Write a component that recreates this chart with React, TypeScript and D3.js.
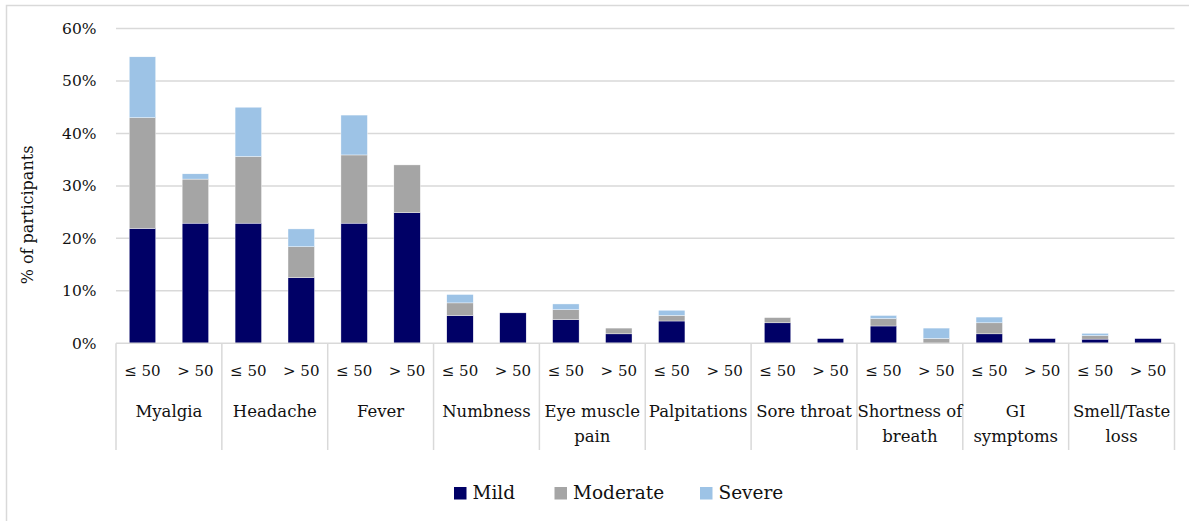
import React from "react";
import * as d3 from "d3";

const categories = [
  ["Myalgia"],
  ["Headache"],
  ["Fever"],
  ["Numbness"],
  ["Eye muscle", "pain"],
  ["Palpitations"],
  ["Sore throat"],
  ["Shortness of", "breath"],
  ["GI", "symptoms"],
  ["Smell/Taste", "loss"],
];
const ageGroups = ["≤ 50", "> 50"];

// values in percent, order: cat0 ≤50, cat0 >50, cat1 ≤50, ...
const mild = [21.9, 22.9, 22.9, 12.5, 22.9, 24.9, 5.3, 5.8, 4.5, 1.8, 4.25, 0, 3.9, 0.9, 3.3, 0, 1.8, 0.9, 0.8, 0.9];
const moderate = [21.1, 8.4, 12.7, 5.9, 13.0, 9.1, 2.4, 0, 1.9, 1.1, 1.05, 0, 1.0, 0, 1.4, 0.9, 2.1, 0, 0.65, 0];
const severe = [11.6, 1.0, 9.4, 3.4, 7.6, 0, 1.6, 0, 1.1, 0, 1.0, 0, 0, 0, 0.6, 2.0, 1.1, 0, 0.45, 0];

const seriesNames = ["Mild", "Moderate", "Severe"];
const seriesColors = ["#000066", "#a5a5a5", "#9dc3e6"];
const yTicks = [0, 10, 20, 30, 40, 50, 60];

const W = 1189;
const H = 521;
const FONT = "DejaVu Serif";

export default function App() {
  const left = 116;
  const right = 1174.5;
  const top = 28.5;
  const bottom = 343.3;

  const rows = mild.map((m, i) => ({
    key: i,
    Mild: m,
    Moderate: moderate[i],
    Severe: severe[i],
  }));
  const stack = d3.stack<any>().keys(seriesNames)(rows);

  const y = d3.scaleLinear().domain([0, 60]).range([bottom, top]);
  const x = d3
    .scaleBand<number>()
    .domain(rows.map((r) => r.key))
    .range([left, right])
    .paddingInner(0.5)
    .paddingOuter(0.25);
  const catX = d3
    .scaleBand<number>()
    .domain(categories.map((_, i) => i))
    .range([left, right]);

  const grid = "#d9d9d9";

  return (
    <svg
      width={W}
      height={H}
      style={{ position: "absolute", left: 0, top: 0, background: "#fff" }}
      fontFamily={FONT}
    >
      <rect x={6.5} y={5.5} width={W + 10} height={H + 10} fill="#fff" stroke={grid} strokeWidth={1.5} />
      {yTicks.map((t) => (
        <g key={t}>
          {t > 0 && (
            <line x1={left} x2={right} y1={y(t)} y2={y(t)} stroke={grid} strokeWidth={1.5} />
          )}
          <text x={96.5} y={y(t)} dy="0.35em" textAnchor="end" fontSize={15.5} fill="#111">
            {t}%
          </text>
        </g>
      ))}
      <text
        transform={`translate(33,215) rotate(-90)`}
        textAnchor="middle"
        fontSize={16}
        fill="#111"
      >
        % of participants
      </text>
      {stack.map((s, si) => (
        <g key={s.key} fill={seriesColors[si]}>
          {s.map((d, i) =>
            d[1] - d[0] > 0 ? (
              <rect
                key={i}
                x={x(i)}
                width={x.bandwidth()}
                y={y(d[1])}
                height={y(d[0]) - y(d[1])}
                stroke="#fff"
                strokeWidth={0.4}
              />
            ) : null
          )}
        </g>
      ))}
      <line x1={left} x2={right} y1={bottom} y2={bottom} stroke={grid} strokeWidth={1.5} />
      {categories.map((_, i) => (
        <line
          key={"d" + i}
          x1={catX(i)!}
          x2={catX(i)!}
          y1={bottom}
          y2={450}
          stroke={grid}
          strokeWidth={1.5}
        />
      ))}
      <line x1={right} x2={right} y1={bottom} y2={450} stroke={grid} strokeWidth={1.5} />
      {rows.map((r) => (
        <text
          key={"a" + r.key}
          x={x(r.key)! + x.bandwidth() / 2}
          y={370.5}
          dy="0.35em"
          textAnchor="middle"
          fontSize={15}
          fill="#111"
        >
          {ageGroups[r.key % 2]}
        </text>
      ))}
      {categories.map((lines, i) => (
        <text
          key={"c" + i}
          x={catX(i)! + catX.bandwidth() / 2}
          textAnchor="middle"
          fontSize={16.5}
          fill="#111"
        >
          {lines.map((l, li) => (
            <tspan key={li} x={catX(i)! + catX.bandwidth() / 2} y={411.5 + li * 25} dy="0.35em">
              {l}
            </tspan>
          ))}
        </text>
      ))}
      {seriesNames.map((n, i) => {
        const lx = [454, 554.5, 700][i];
        return (
          <g key={n}>
            <rect x={lx} y={487} width={12.5} height={12.5} fill={seriesColors[i]} />
            <text x={lx + 18.5} y={493} dy="0.35em" fontSize={18.5} fill="#111">
              {n}
            </text>
          </g>
        );
      })}
    </svg>
  );
}
